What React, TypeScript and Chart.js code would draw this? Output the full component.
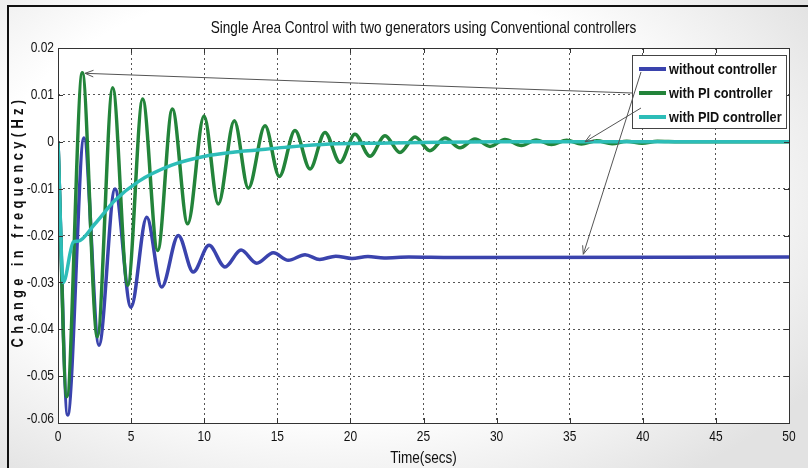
import { useEffect, useRef } from 'react';
import { Chart, registerables } from 'chart.js';

Chart.register(...registerables);

// ---------- text ----------
const chartTitle = 'Single Area Control with two generators using Conventional controllers';
const xAxisTitle = 'Time(secs)';
const yAxisTitle = 'Change in frequency(Hz)';
const seriesNames = ['without controller', 'with PI controller', 'with PID controller'];

// ---------- ticks ----------
const xTicks = [0, 5, 10, 15, 20, 25, 30, 35, 40, 45, 50];
const xTickLabels = ['0', '5', '10', '15', '20', '25', '30', '35', '40', '45', '50'];
const yTicks = [-0.06, -0.05, -0.04, -0.03, -0.02, -0.01, 0, 0.01, 0.02];
const yTickLabels = ['-0.06', '-0.05', '-0.04', '-0.03', '-0.02', '-0.01', '0', '0.01', '0.02'];

// ---------- series: without controller ----------
const noCtrlTime = [0, 0.66, 1.78, 2.8, 3.9, 4.99, 6.07, 7.09, 8.23, 9.25, 10.33, 11.42, 12.52, 13.59, 14.73, 15.75, 16.9, 17.9, 19.0, 20.1, 21.2, 22.3, 24, 27, 50];
const noCtrlValue = [0, -0.0583, 0.0008, -0.0434, -0.0101, -0.0353, -0.0161, -0.031, -0.02, -0.0278, -0.0221, -0.0267, -0.0231, -0.0259, -0.0237, -0.0253, -0.0241, -0.0251, -0.0244, -0.0249, -0.0245, -0.0248, -0.0246, -0.0247, -0.0246];

// ---------- series: with PI controller ----------
const piTime = [0, 0.6, 1.66, 2.69, 3.74, 4.77, 5.79, 6.82, 7.82, 8.87, 9.99, 10.96, 12.06, 13.02, 14.16, 15.14, 16.21, 17.24, 18.26, 19.29, 20.31, 21.34, 22.37, 23.39, 24.42, 25.44, 26.47, 27.5, 28.52, 29.55, 30.57, 31.7, 32.7, 33.75, 34.8, 35.8, 36.85, 37.9, 38.9, 39.95, 41.0, 42.5, 50];
const piValue = [0, -0.0544, 0.0147, -0.0416, 0.0115, -0.0306, 0.0091, -0.0232, 0.007, -0.0175, 0.0055, -0.0133, 0.0045, -0.0099, 0.0034, -0.0074, 0.0024, -0.0058, 0.002, -0.0044, 0.0016, -0.0031, 0.0013, -0.0023, 0.001, -0.0019, 0.0008, -0.0013, 0.0006, -0.001, 0.0005, -0.0008, 0.0004, -0.0006, 0.0003, -0.0005, 0.0002, -0.0004, 0.0001, -0.0003, 0.0001, 0, 0];

// ---------- series: with PID controller ----------
const pidTime = [0, 0.36, 1.05, 1.4, 2.53, 3.9, 5.49, 7.78, 10.05, 12.1, 13.47, 15.5, 18.6, 22, 26, 30, 50];
const pidValue = [0, -0.03, -0.0214, -0.0212, -0.0175, -0.0125, -0.0085, -0.005, -0.0031, -0.0022, -0.0018, -0.0012, -0.0005, -0.0003, -0.0001, 0, 0];

// ---------- arrow annotation targets (data coordinates) ----------
const arrowTargetTime = [1.85, 35.93, 36.05];
const arrowTargetValue = [0.0146, -0.024, 0.0];

const FONT = '"Liberation Sans", Arial, sans-serif';
const NARROW_X = 0.8;
const LEGEND_X = 0.85;
const COLORS = ['#3a43ad', '#23843a', '#2dbdb8'];
const TEXT = '#111111';

const toPoints = (t: number[], v: number[]) => t.map((x, i) => ({ x, y: v[i] }));

// draws horizontally condensed text (Arial-Narrow look)
function narrowText(ctx: CanvasRenderingContext2D, text: string, x: number, y: number, font: string, align: CanvasTextAlign, sx = NARROW_X) {
  ctx.save();
  ctx.translate(x, y);
  ctx.scale(sx, 1);
  ctx.font = font;
  ctx.textAlign = align;
  ctx.textBaseline = 'middle';
  ctx.fillText(text, 0, 0);
  ctx.restore();
}

const decorPlugin = {
  id: 'decor',
  beforeDraw(chart: any) {
    const { ctx, chartArea: a } = chart;
    ctx.save();
    ctx.fillStyle = '#ffffff';
    ctx.fillRect(a.left, a.top, a.right - a.left, a.bottom - a.top);
    ctx.restore();
  },
  afterDatasetsDraw(chart: any) {
    const { ctx, chartArea: a, scales } = chart;
    const xs = scales.x;
    const ys = scales.y;
    ctx.save();
    ctx.strokeStyle = '#333';
    ctx.lineWidth = 1;
    ctx.beginPath();
    xTicks.forEach((t) => {
      const px = Math.round(xs.getPixelForValue(t)) + 0.5;
      ctx.moveTo(px, a.bottom);
      ctx.lineTo(px, a.bottom - 5);
      ctx.moveTo(px, a.top);
      ctx.lineTo(px, a.top + 5);
    });
    yTicks.forEach((v) => {
      const py = Math.round(ys.getPixelForValue(v)) + 0.5;
      ctx.moveTo(a.left, py);
      ctx.lineTo(a.left + 5, py);
      ctx.moveTo(a.right, py);
      ctx.lineTo(a.right - 5, py);
    });
    ctx.stroke();
    ctx.strokeRect(Math.round(a.left) + 0.5, Math.round(a.top) + 0.5, Math.round(a.right - a.left), Math.round(a.bottom - a.top));
    ctx.restore();
  },
  afterDraw(chart: any) {
    const { ctx, chartArea: a, scales } = chart;
    const xs = scales.x;
    const ys = scales.y;
    const cx = (a.left + a.right) / 2;
    ctx.save();
    ctx.fillStyle = TEXT;

    // tick labels
    const tickFont = `15px ${FONT}`;
    xTicks.forEach((t, i) => {
      narrowText(ctx, xTickLabels[i], xs.getPixelForValue(t), a.bottom + 14, tickFont, 'center');
    });
    yTicks.forEach((v, i) => {
      const lift = i === 0 ? -4 : 0;
      narrowText(ctx, yTickLabels[i], a.left - 4, ys.getPixelForValue(v) + lift, tickFont, 'right');
    });

    // titles
    narrowText(ctx, chartTitle, cx, a.top - 20, `17px ${FONT}`, 'center');
    narrowText(ctx, xAxisTitle, cx, a.bottom + 35, `17px ${FONT}`, 'center');

    // y axis title (letter spaced, bold, condensed)
    ctx.save();
    ctx.translate(19, (a.top + a.bottom) / 2 - 14);
    ctx.rotate(-Math.PI / 2);
    ctx.scale(NARROW_X, 1);
    ctx.font = `bold 16px ${FONT}`;
    (ctx as any).letterSpacing = '5.5px';
    ctx.textAlign = 'center';
    ctx.textBaseline = 'middle';
    ctx.fillText(yAxisTitle, 0, 0);
    ctx.restore();

    // legend
    const legFont = `bold 15px ${FONT}`;
    ctx.font = legFont;
    const textW = Math.max(...seriesNames.map((n) => ctx.measureText(n).width)) * LEGEND_X;
    const padL = 7, lineLen = 27, gap = 3, padR = 4, rowH = 24;
    const boxW = padL + lineLen + gap + textW + padR;
    const boxH = 73;
    const boxRight = Math.round(a.right) - 3;
    const boxTop = Math.round(a.top) + 7;
    const boxLeft = Math.round(boxRight - boxW);
    ctx.fillStyle = '#ffffff';
    ctx.fillRect(boxLeft, boxTop, boxRight - boxLeft, boxH);
    ctx.strokeStyle = '#444';
    ctx.lineWidth = 1;
    ctx.strokeRect(boxLeft + 0.5, boxTop + 0.5, boxRight - boxLeft, boxH);
    seriesNames.forEach((name, i) => {
      const y = boxTop + 14 + i * rowH;
      ctx.strokeStyle = COLORS[i];
      ctx.lineWidth = 4;
      ctx.beginPath();
      ctx.moveTo(boxLeft + padL, y);
      ctx.lineTo(boxLeft + padL + lineLen, y);
      ctx.stroke();
      ctx.fillStyle = TEXT;
      narrowText(ctx, name, boxLeft + padL + lineLen + gap, y + 1, legFont, 'left', LEGEND_X);
    });

    // arrows
    const tails = [
      { x: boxLeft, y: boxTop + 38 },
      { x: boxLeft + 9, y: boxTop + 17 },
      { x: boxLeft + 9, y: boxTop + 53 },
    ];
    ctx.strokeStyle = '#555';
    ctx.lineWidth = 1;
    arrowTargetTime.forEach((t, i) => {
      const hx = xs.getPixelForValue(t);
      const hy = ys.getPixelForValue(arrowTargetValue[i]);
      const tx = tails[i].x;
      const ty = tails[i].y;
      const ang = Math.atan2(hy - ty, hx - tx);
      const L = 9;
      ctx.beginPath();
      ctx.moveTo(tx, ty);
      ctx.lineTo(hx, hy);
      ctx.moveTo(hx - L * Math.cos(ang - 0.38), hy - L * Math.sin(ang - 0.38));
      ctx.lineTo(hx, hy);
      ctx.lineTo(hx - L * Math.cos(ang + 0.38), hy - L * Math.sin(ang + 0.38));
      ctx.stroke();
    });
    ctx.restore();
  },
};

export default function App() {
  const ref = useRef<HTMLCanvasElement>(null);
  useEffect(() => {
    if (!ref.current) return;
    const lineDs = (i: number, data: any[], order: number) => ({
      label: seriesNames[i],
      data,
      borderColor: COLORS[i],
      backgroundColor: COLORS[i],
      borderWidth: 3.5,
      pointRadius: 0,
      fill: false,
      cubicInterpolationMode: 'monotone' as const,
      order,
    });
    const chart = new Chart(ref.current, {
      type: 'line',
      data: {
        datasets: [
          lineDs(0, toPoints(noCtrlTime, noCtrlValue), 2),
          lineDs(1, toPoints(piTime, piValue), 1),
          lineDs(2, toPoints(pidTime, pidValue), 0),
        ],
      },
      options: {
        animation: false,
        responsive: false,
        devicePixelRatio: 1,
        layout: { padding: { left: 0, right: 19, top: 48, bottom: 0 } },
        plugins: {
          legend: { display: false },
          title: { display: false },
          tooltip: { enabled: false },
        },
        scales: {
          x: {
            type: 'linear',
            min: 0,
            max: 50,
            afterBuildTicks: (s: any) => {
              s.ticks = xTicks.map((value) => ({ value }));
            },
            afterFit: (s: any) => {
              s.height = 45;
            },
            ticks: { display: false, autoSkip: false, maxRotation: 0 },
            grid: { color: '#555', lineWidth: 1, drawTicks: false },
            border: { display: false, dash: [2, 3] },
          },
          y: {
            type: 'linear',
            min: -0.06,
            max: 0.02,
            afterBuildTicks: (s: any) => {
              s.ticks = yTicks.map((value) => ({ value }));
            },
            afterFit: (s: any) => {
              s.width = 58;
            },
            ticks: { display: false, autoSkip: false },
            grid: { color: '#555', lineWidth: 1, drawTicks: false },
            border: { display: false, dash: [2, 3] },
          },
        },
      },
      plugins: [decorPlugin],
    });
    return () => chart.destroy();
  }, []);

  return (
    <div
      style={{
        position: 'fixed',
        left: 0,
        top: 0,
        width: 808,
        height: 468,
        overflow: 'hidden',
        background: 'radial-gradient(ellipse 70% 75% at 42% 42%, #ffffff 62%, #e2e2e2 100%)',
      }}
    >
      <div
        style={{
          position: 'absolute',
          left: 7,
          top: 5,
          width: 830,
          height: 490,
          borderTop: '2px solid #111',
          borderLeft: '2px solid #111',
        }}
      />
      <canvas ref={ref} width={808} height={468} style={{ position: 'absolute', left: 0, top: 0, width: 808, height: 468 }} />
    </div>
  );
}
